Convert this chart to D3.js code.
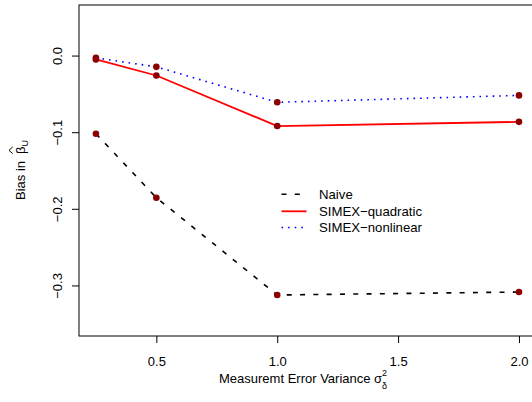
<!DOCTYPE html>
<html>
<head>
<meta charset="utf-8">
<script src="https://cdn.jsdelivr.net/npm/d3@7"></script>
<style>
  html, body { margin: 0; padding: 0; background: #fff; }
  svg { display: block; font-family: "Liberation Sans", Arial, Helvetica, sans-serif; }
</style>
</head>
<body>
<svg id="chart" width="532" height="402"></svg>
<script>
// Measurement error variance levels
const variances = [0.25, 0.5, 1.0, 2.0];

// Bias of the estimated coefficient for each method
const naiveBias = [-0.102, -0.1855, -0.3125, -0.3086];
const quadraticBias = [-0.005, -0.026, -0.092, -0.0865];
const nonlinearBias = [-0.003, -0.0147, -0.061, -0.052];

// Axis ticks
const xTicks = [0.5, 1.0, 1.5, 2.0];
const yTicks = [0.0, -0.1, -0.2, -0.3];

const seriesNames = ["Naive", "SIMEX\u2212quadratic", "SIMEX\u2212nonlinear"];

const series = [
  { name: seriesNames[0], values: naiveBias, color: "#000000", dash: "5,8.3", width: 1.6 },
  { name: seriesNames[1], values: quadraticBias, color: "#ff0000", dash: null, width: 1.8 },
  { name: seriesNames[2], values: nonlinearBias, color: "#0000ff", dash: "1.6,5", width: 1.6 }
];

const svg = d3.select("#chart");
const box = { left: 79, top: 5, right: 535.9, bottom: 336 };

const x = d3.scaleLinear().domain([0.18, 2.07]).range([box.left, box.right]);
const y = d3.scaleLinear().domain([0.066, -0.366]).range([box.top, box.bottom]);

const fmt = v => d3.format(".1f")(v).replace("-", "\u2212");

// Lines
const line = d3.line().x((d, i) => x(variances[i])).y(d => y(d));
series.forEach(s => {
  svg.append("path")
    .datum(s.values)
    .attr("d", line)
    .attr("fill", "none")
    .attr("stroke", s.color)
    .attr("stroke-width", s.width)
    .attr("stroke-dasharray", s.dash);
});

// Points
series.forEach(s => {
  svg.append("g").selectAll("circle")
    .data(s.values)
    .join("circle")
    .attr("cx", (d, i) => x(variances[i]))
    .attr("cy", d => y(d))
    .attr("r", 3.3)
    .attr("fill", "#8b0000");
});

// Plot frame
svg.append("rect")
  .attr("x", box.left).attr("y", box.top)
  .attr("width", box.right - box.left).attr("height", box.bottom - box.top)
  .attr("fill", "none").attr("stroke", "#000").attr("stroke-width", 1);

// X axis
const xAxis = svg.append("g")
  .attr("transform", `translate(0,${box.bottom})`)
  .call(d3.axisBottom(x).tickValues(xTicks).tickFormat(d3.format(".1f")).tickSize(7).tickPadding(14).tickSizeOuter(0));
xAxis.select(".domain").remove();
xAxis.selectAll("text").attr("font-size", 13).attr("font-family", "Liberation Sans, Arial, sans-serif").attr("fill", "#000");

// Y axis
const yAxis = svg.append("g")
  .attr("transform", `translate(${box.left},0)`)
  .call(d3.axisLeft(y).tickValues(yTicks).tickFormat(fmt).tickSize(7).tickSizeOuter(0));
yAxis.select(".domain").remove();
yAxis.selectAll("text")
  .attr("x", null).attr("dy", null)
  .attr("transform", "translate(-17.5,0) rotate(-90)")
  .attr("text-anchor", "middle")
  .attr("font-size", 13).attr("font-family", "Liberation Sans, Arial, sans-serif").attr("fill", "#000");

// X axis title
const xt = svg.append("g").attr("font-size", 13).attr("fill", "#000");
xt.append("text").attr("x", 219).attr("y", 383).text("Measuremt Error Variance");
xt.append("text").attr("x", 374).attr("y", 383).text("\u03c3");
xt.append("text").attr("x", 382).attr("y", 375.5).attr("font-size", 9).text("2");
xt.append("text").attr("x", 382).attr("y", 388.5).attr("font-size", 9).text("\u03b4");

// Y axis title
const yt = svg.append("g").attr("transform", "translate(25,200) rotate(-90)").attr("font-size", 13).attr("fill", "#000");
yt.append("text").attr("x", 0).attr("y", 0).text("Bias in");
yt.append("text").attr("x", 46).attr("y", 0).text("\u03b2");
yt.append("text").attr("x", 53.5).attr("y", 3).attr("font-size", 9).text("U");
yt.append("path").attr("d", "M46.3,-12.3 L49.7,-16 L53.1,-12.3")
  .attr("fill", "none").attr("stroke", "#000").attr("stroke-width", 1);

// Legend
const legend = svg.append("g");
const legendY = [194.3, 211.3, 227.5];
series.forEach((s, i) => {
  legend.append("line")
    .attr("x1", 281.5).attr("x2", 306.5)
    .attr("y1", legendY[i]).attr("y2", legendY[i])
    .attr("stroke", s.color).attr("stroke-width", s.width)
    .attr("stroke-dasharray", s.dash);
  legend.append("text")
    .attr("x", 319).attr("y", legendY[i]).attr("dy", "0.35em")
    .attr("font-size", 13.2).attr("fill", "#000")
    .text(s.name);
});
</script>
</body>
</html>
